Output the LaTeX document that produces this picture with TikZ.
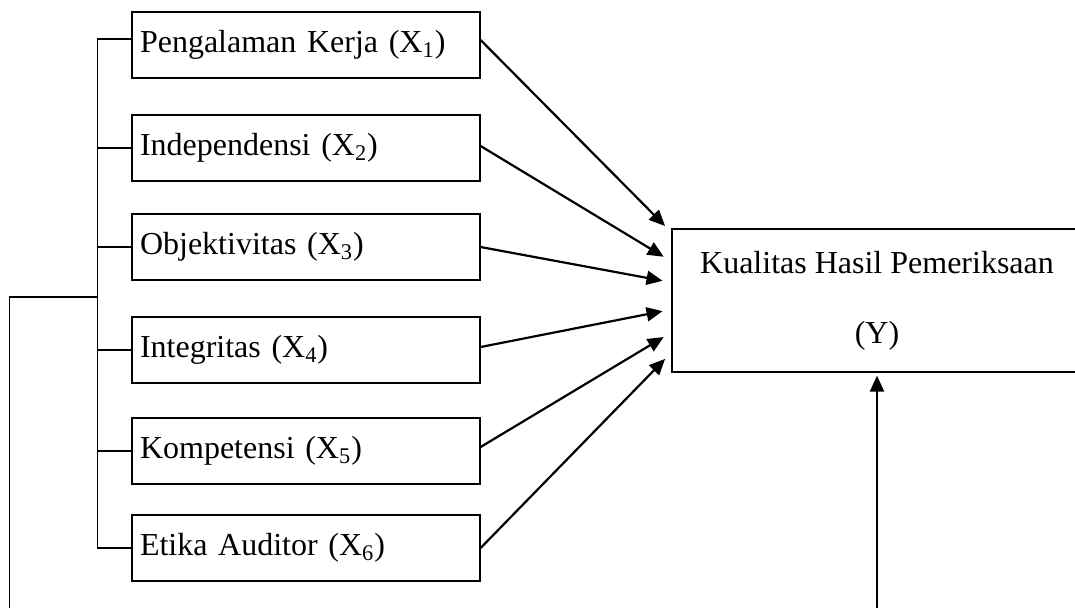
\documentclass[tikz,border=0pt]{standalone}
\usepackage{fontspec}
\setmainfont{Liberation Serif}
\usepackage{tikz}
\usetikzlibrary{arrows.meta}

\begin{document}
\begin{tikzpicture}[x=0.5pt,y=-0.5pt,
  var/.style={draw,line width=0.6pt,minimum width=174pt,minimum height=33pt,
    text width=166pt,align=left,inner xsep=4pt,
    font=\fontsize{16}{18}\selectfont},
  arr/.style={line width=1.1pt,-{Triangle[length=8pt,width=7pt]},shorten >=4.5pt}]
\clip (0,0) rectangle (1075,607);
% variabel bebas
\node[var] (x1) at (306,45) {Pengalaman Kerja (X\textsubscript{1})};
\node[var] (x2) at (306,148) {Independensi (X\textsubscript{2})};
\node[var] (x3) at (306,247) {Objektivitas (X\textsubscript{3})};
\node[var] (x4) at (306,350) {Integritas (X\textsubscript{4})};
\node[var] (x5) at (306,451) {Kompetensi (X\textsubscript{5})};
\node[var] (x6) at (306,548) {Etika Auditor (X\textsubscript{6})};
% variabel terikat
\node[draw,line width=0.6pt,minimum width=205pt,minimum height=71.5pt,align=center,
  font=\fontsize{16}{18}\selectfont] (y) at (877,300.5)
  {Kualitas Hasil Pemeriksaan\\[17pt](Y)};
% garis kurung kiri
\draw[line width=0.6pt] ([yshift=3pt]x1.west) -- ++(-17pt,0) |- (x6.west);
\draw[line width=0.6pt] (x2.west) -- ++(-17pt,0);
\draw[line width=0.6pt] (x3.west) -- ++(-17pt,0);
\draw[line width=0.6pt] (x4.west) -- ++(-17pt,0);
\draw[line width=0.6pt] (x5.west) -- ++(-17pt,0);
\coordinate (j) at (98,297);
\coordinate (lb) at (9.5,620);
\draw[line width=0.6pt] (j) -| (lb);
% panah ke Y
\draw[arr] ([yshift=2.5pt]x1.east) -- ([yshift=-2pt]y.north west);
\draw[arr] ([yshift=1pt]x2.east) -- ([yshift=-16.5pt]y.north west);
\draw[arr] (x3.east) -- ([yshift=-27pt]y.north west);
\draw[arr] ([yshift=1.5pt]x4.east) -- ([yshift=-40.5pt]y.north west);
\draw[arr] ([yshift=2pt]x5.east) -- ([yshift=-52pt]y.north west);
\draw[arr] (x6.east) -- ([yshift=-62pt]y.north west);
\coordinate (yb) at (877,620);
\draw[arr,shorten >=1.5pt] (yb) -- (y.south);
\end{tikzpicture}
\end{document}
